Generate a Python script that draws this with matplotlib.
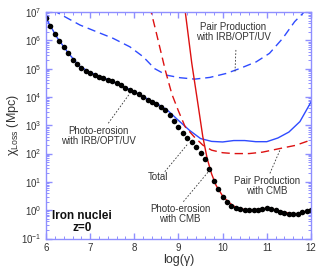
import numpy as np
import matplotlib
matplotlib.use('Agg')
import matplotlib.pyplot as plt
from matplotlib.ticker import LogLocator, MultipleLocator, NullFormatter

plt.rcParams['font.family'] = ['Liberation Sans', 'DejaVu Sans']
plt.rcParams['mathtext.fontset'] = 'custom'
plt.rcParams['mathtext.rm'] = 'Liberation Sans'
plt.rcParams['mathtext.it'] = 'Liberation Sans:italic'

# total energy loss length (dots), log10 values at log(gamma) = 6.0 ... 12.0
total_x = [round(6.0 + 0.1 * i, 1) for i in range(61)]
total_log = [6.78, 6.50, 6.22, 5.98, 5.75, 5.56, 5.32, 5.15, 5.03, 4.93,
             4.86, 4.79, 4.72, 4.67, 4.61, 4.55, 4.48, 4.41, 4.33, 4.24,
             4.17, 4.09, 4.00, 3.90, 3.83, 3.76, 3.66, 3.54, 3.36, 3.15,
             2.93, 2.73, 2.55, 2.40, 2.22, 2.03, 1.82, 1.45, 1.02, 0.74,
             0.48, 0.30, 0.16, 0.08, 0.03, 0.00, -0.01, 0.00, 0.02, 0.04,
             0.06, 0.04, 0.00, -0.05, -0.09, -0.12, -0.15, -0.13, -0.08, -0.03,
             0.02]

# photo-erosion with IRB/OPT/UV (blue solid)
pe_irb_x = [6.0, 6.25, 6.5, 6.75, 7.0, 7.25, 7.5, 7.75, 8.0, 8.25, 8.5, 8.75,
            9.0, 9.25, 9.5, 9.75, 10.0, 10.25, 10.5, 10.75, 11.0, 11.25, 11.5,
            11.75, 12.0]
pe_irb_log = [6.78, 6.10, 5.56, 5.10, 4.87, 4.71, 4.55, 4.37, 4.18, 3.97, 3.78,
              3.53, 3.17, 2.82, 2.53, 2.43, 2.41, 2.46, 2.46, 2.42, 2.42, 2.55,
              2.76, 3.13, 3.82]

# pair production with IRB/OPT/UV (blue dashed)
pp_irb_x = [6.15, 6.2, 6.43, 6.77, 7.15, 7.52, 7.9, 8.2, 8.46, 8.73, 9.03, 9.37,
            9.71, 10.08, 10.38, 10.76, 11.06, 11.36, 11.63, 11.89, 12.0]
pp_irb_log = [7.08, 7.03, 6.83, 6.54, 6.30, 6.07, 5.77, 5.42, 5.00, 4.77, 4.68,
              4.63, 4.69, 4.83, 5.00, 5.24, 5.54, 6.07, 6.66, 7.07, 7.25]

# pair production with CMB (red dashed)
pp_cmb_x = [8.35, 8.5, 8.7, 8.85, 9.0, 9.15, 9.35, 9.55, 9.75, 10.0, 10.25,
            10.6, 10.9, 11.3, 11.65, 12.0]
pp_cmb_log = [7.2, 6.25, 4.95, 4.10, 3.50, 2.95, 2.60, 2.30, 2.12, 2.03, 2.00,
              2.00, 2.05, 2.18, 2.29, 2.48]

# photo-erosion with CMB (red solid)
pe_cmb_x = [9.15, 9.3, 9.45, 9.55, 9.65, 9.75, 9.85, 10.0, 10.15, 10.3, 10.5,
            10.7, 10.9, 11.05, 11.2, 11.45, 11.65, 11.85, 12.0]
pe_cmb_log = [7.05, 5.20, 3.65, 2.60, 1.82, 1.28, 0.88, 0.50, 0.26, 0.10, 0.02,
              0.01, 0.05, 0.07, 0.01, -0.09, -0.14, -0.06, 0.03]

blue = '#2f4bff'
red = '#dd1111'
frame = '#8f8fff'
grey = '#333333'

fig = plt.figure(figsize=(3.27, 2.75), dpi=100)
ax = fig.add_axes([0.1407, 0.1327, 0.8103, 0.8236])

ax.plot(pe_irb_x, 10 ** np.array(pe_irb_log), color=blue, lw=1.0)
ax.plot(pp_irb_x, 10 ** np.array(pp_irb_log), color=blue, lw=1.0,
        dashes=(6, 3.5))
ax.plot(pp_cmb_x, 10 ** np.array(pp_cmb_log), color=red, lw=1.0,
        dashes=(6, 3.5))
ax.plot(pe_cmb_x, 10 ** np.array(pe_cmb_log), color=red, lw=1.0)
ax.plot(total_x, 10 ** np.array(total_log), 'o', color='black', ms=4.0,
        mec='black', mew=0)

ax.set_yscale('log')
ax.set_xlim(6, 12)
ax.set_ylim(1e-1, 1e7)

for s in ax.spines.values():
    s.set_color(frame)
    s.set_linewidth(1.0)
ax.xaxis.set_major_locator(MultipleLocator(1))
ax.xaxis.set_minor_locator(MultipleLocator(0.2))
ax.yaxis.set_major_locator(LogLocator(base=10, numticks=20))
ax.yaxis.set_minor_locator(LogLocator(base=10, subs=np.arange(2, 10), numticks=20))
ax.yaxis.set_minor_formatter(NullFormatter())
ax.tick_params(which='both', direction='in', top=True, right=True,
               color=frame, labelcolor=grey, labelsize=7, pad=3)
ax.tick_params(which='major', length=4, width=1.0)
ax.tick_params(which='minor', length=2, width=0.7)

ax.set_xlabel('log(γ)', fontsize=9, color=grey, labelpad=1)
ax.set_ylabel(r'χ$_{\rm Loss}$ (Mpc)', fontsize=9, color=grey, labelpad=0)

# annotations (text positions in axes fraction, leader lines in data coords)
def px(xp, yp):
    return ((xp - 46) / 265.0, (238.5 - yp) / 226.5)

lead = dict(color=grey, lw=0.6, ls=(0, (2, 2)))
tkw = dict(transform=ax.transAxes, ha='center', va='center', fontsize=7,
           color=grey, linespacing=1.0)

ax.text(*px(233, 32), 'Pair Production\nwith IRB/OPT/UV', **tkw)
ax.plot([10.3, 10.28], [10 ** 5.66, 10 ** 4.9], **lead)

ax.text(*px(98, 136), 'Photo-erosion\nwith IRB/OPT/UV', **tkw)
ax.plot([7.41, 7.9], [10 ** 3.07, 10 ** 4.13], **lead)

ax.text(*px(158, 177), 'Total', **tkw)
ax.plot([8.69, 9.22], [10 ** 1.36, 10 ** 2.36], **lead)

ax.text(*px(180, 214), 'Photo-erosion\nwith CMB', **tkw)
ax.plot([9.11, 9.71], [10 ** 0.30, 10 ** 1.42], **lead)

ax.text(*px(267, 186), 'Pair Production\nwith CMB', **tkw)
ax.plot([11.07, 11.3], [10 ** 1.30, 10 ** 2.13], **lead)

ax.text(*px(82, 222), 'Iron nuclei\nz=0', transform=ax.transAxes,
        ha='center', va='center', fontsize=8.5, fontweight='bold',
        color='#111111', linespacing=1.0)

fig.savefig('out.png', dpi=100)
